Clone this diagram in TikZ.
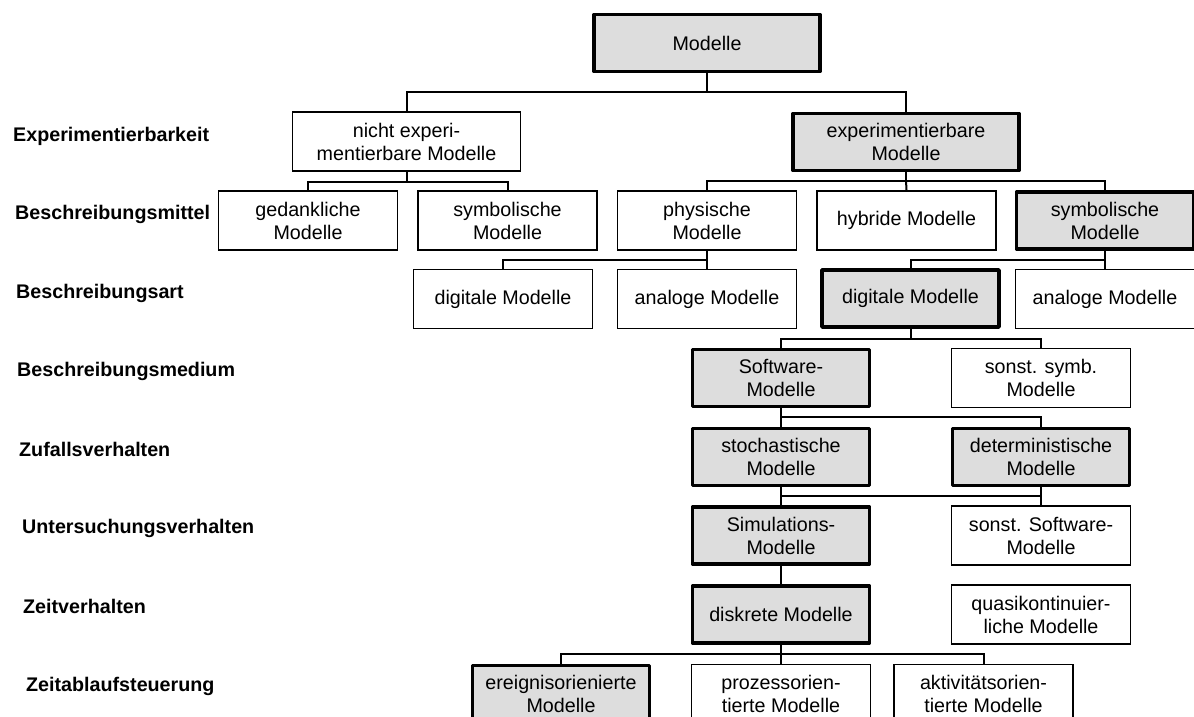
\documentclass[tikz,border=0pt]{standalone}
\usepackage{fontspec}
\setmainfont{Liberation Sans}
\definecolor{boxgray}{RGB}{221,221,221}
\tikzset{
  box/.style={draw, line width=1.7pt, fill=white, align=center, inner sep=0pt,
    minimum width=179pt, minimum height=59pt,
    font=\fontsize{19.7}{23}\selectfont},
  keybox/.style={box, fill=boxgray, line width=3.8pt, line join=round,
    minimum width=177pt, minimum height=57pt},
  level/.style={anchor=west, inner sep=0pt, font=\fontsize{19.7}{23}\selectfont\bfseries},
  link/.style={line width=2pt}
}
\begin{document}
\begin{tikzpicture}[x=1pt,y=-1pt]
\useasboundingbox (0,0) rectangle (1194,717);
\clip (0,0) rectangle (1194,717);
\fill[white] (0,0) rectangle (1194,717);

% classification criteria
\node[level] (l1) at (13,136) {Experimentierbarkeit};
\node[level] (l2) at (15,214) {Beschreibungsmittel};
\node[level] (l3) at (16,293) {Beschreibungsart};
\node[level] (l4) at (17,371) {Beschreibungsmedium};
\node[level] (l5) at (19,449) {Zufallsverhalten};
\node[level] (l6) at (22,528) {Untersuchungsverhalten};
\node[level] (l7) at (23,606) {Zeitverhalten};
\node[level] (l8) at (26,686) {Zeitablaufsteuerung};

% root
\node[keybox, minimum width=226pt] (root) at (707,43) {Modelle};

% Experimentierbarkeit
\node[box, minimum width=228pt] (nexp) at (406.5,141.5) {nicht experi-\\mentierbare Modelle};
\node[keybox, minimum width=226pt] (exp) at (906,142) {experimentierbare\\Modelle};

% Beschreibungsmittel
\node[box] (ged) at (308,220.5) {gedankliche\\Modelle};
\node[box] (symL) at (507.5,220.5) {symbolische\\Modelle};
\node[box] (phys) at (707,220.5) {physische\\Modelle};
\node[box] (hyb) at (906.5,220.5) {hybride Modelle};
\node[keybox] (symR) at (1105,220.5) {symbolische\\Modelle};

% Beschreibungsart
\node[box] (digL) at (503,299) {digitale Modelle};
\node[box] (anaL) at (707,299) {analoge Modelle};
\node[keybox] (digR) at (910.5,298.5) {digitale Modelle};
\node[box] (anaR) at (1105,299) {analoge Modelle};

% Beschreibungsmedium
\node[keybox] (soft) at (781,378) {Software-\\Modelle};
\node[box] (ssymb) at (1041,378) {sonst. symb.\\Modelle};

% Zufallsverhalten
\node[keybox] (stoch) at (781,457) {stochastische\\Modelle};
\node[keybox] (det) at (1041,457) {deterministische\\Modelle};

% Untersuchungsverhalten
\node[keybox] (sim) at (781,535.5) {Simulations-\\Modelle};
\node[box] (ssoft) at (1041,535.5) {sonst. Software-\\Modelle};

% Zeitverhalten
\node[keybox] (disk) at (781,614.5) {diskrete Modelle};
\node[box] (quasi) at (1041,614.5) {quasikontinuier-\\liche Modelle};

% Zeitablaufsteuerung
\node[keybox] (ereig) at (561,694) {ereignisorienierte\\Modelle};
\node[box] (proz) at (781,694) {prozessorien-\\tierte Modelle};
\node[box] (akt) at (983.5,694) {aktivitätsorien-\\tierte Modelle};

% junction points of the tree
\coordinate (j0) at (707,92);
\coordinate (j1) at (406.5,181.5);
\coordinate (j2) at (906,180.5);
\coordinate (j3) at (707,260);
\coordinate (j4) at (1105,260);
\coordinate (j5) at (910.5,339);
\coordinate (j6) at (781,417);
\coordinate (j7) at (781,496);
\coordinate (j8) at (781,654);

% connectors
\draw[link] (root.south) -- (j0);
\draw[link] (nexp.north) |- (j0) -| (exp.north);

\draw[link] (nexp.south) -- (j1);
\draw[link] (ged.north) |- (j1) -| (symL.north);

\draw[link] (exp.south) -- (j2);
\draw[link] (phys.north) |- (j2) -| (symR.north);
\draw[link] (j2) -- (hyb.north);

\draw[link] (phys.south) -- (j3) -- (anaL.north);
\draw[link] (j3) -| (digL.north);

\draw[link] (symR.south) -- (j4) -- (anaR.north);
\draw[link] (j4) -| (digR.north);

\draw[link] (digR.south) -- (j5);
\draw[link] (soft.north) |- (j5) -| (ssymb.north);

\draw[link] (soft.south) -- (j6) -- (stoch.north);
\draw[link] (j6) -| (det.north);

\draw[link] (stoch.south) -- (j7) -- (sim.north);
\draw[link] (det.south) |- (j7);
\draw[link] (j7) -| (ssoft.north);

\draw[link] (sim.south) -- (disk.north);

\draw[link] (disk.south) -- (j8) -- (proz.north);
\draw[link] (ereig.north) |- (j8) -| (akt.north);
\end{tikzpicture}
\end{document}
